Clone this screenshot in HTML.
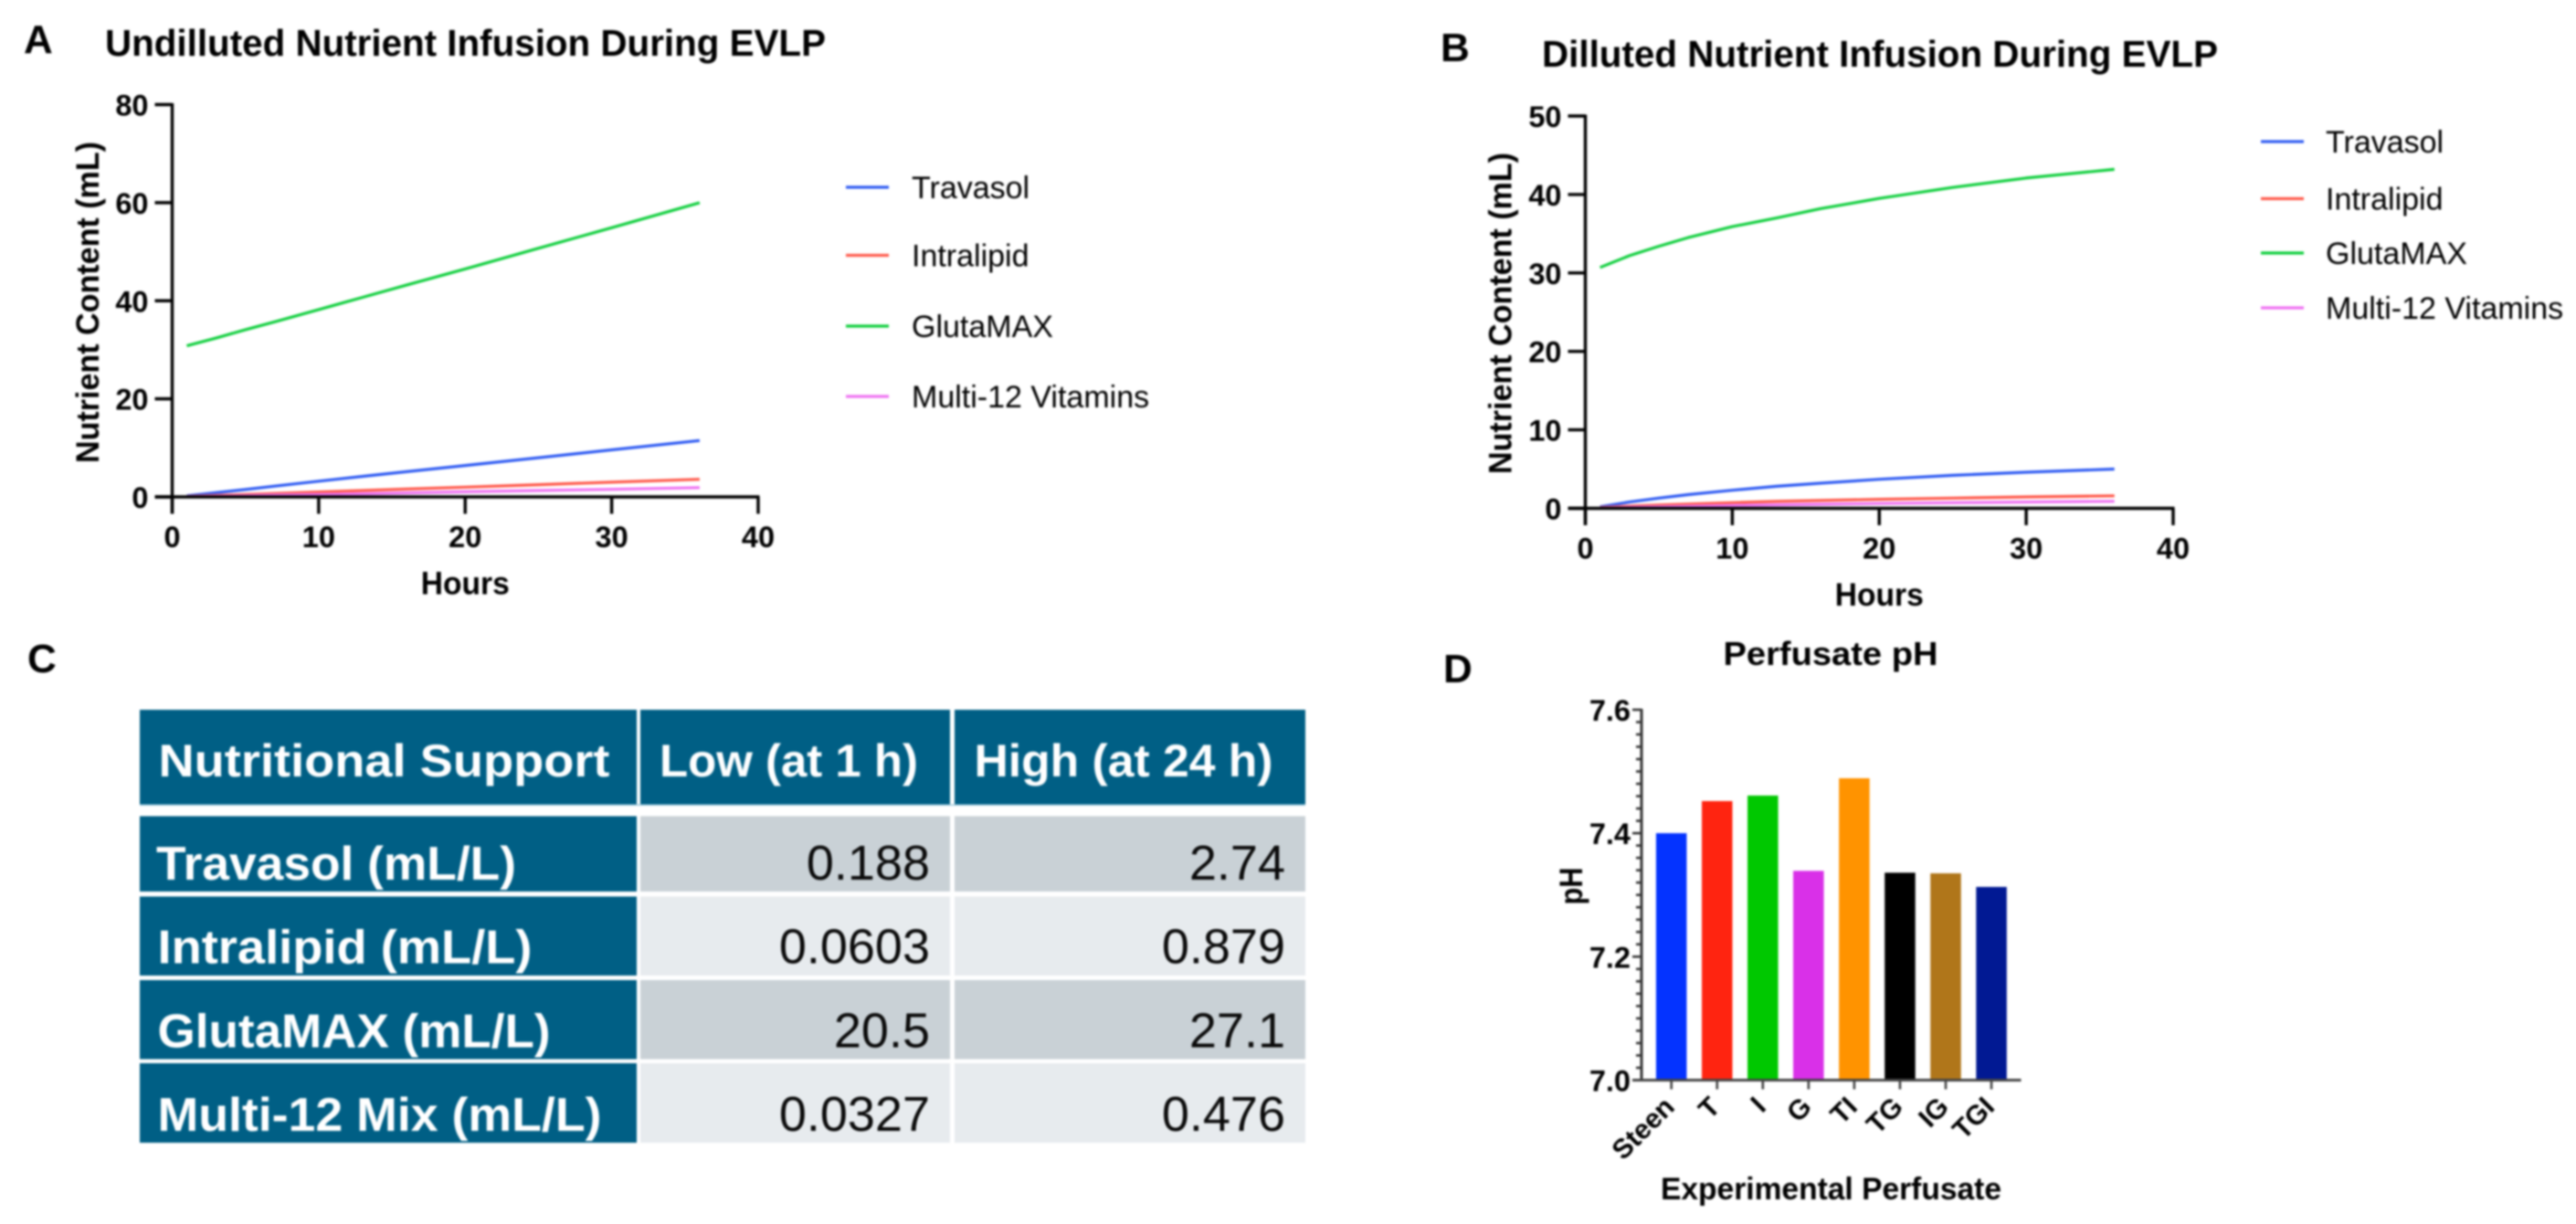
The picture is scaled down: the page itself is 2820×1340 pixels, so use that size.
<!DOCTYPE html>
<html lang="en">
<head>
<meta charset="utf-8">
<title>EVLP Nutrient Infusion Figure</title>
<style>
  html, body { margin: 0; padding: 0; background: #fff; }
  #figure { display: block; width: 2820px; height: 1340px; filter: blur(1.1px); font-family: "Liberation Sans", sans-serif; }
  text { fill: #000; }
  .panel { font-size: 44px; font-weight: 700; }
  .title { font-size: 41px; font-weight: 700; }
  .axt { font-size: 32.5px; font-weight: 700; }
  .axtitle { font-size: 35px; font-weight: 700; }
  .leg { font-size: 34px; }
  .th { font-size: 50px; font-weight: 700; fill: #fff; }
  .rh { font-size: 52px; font-weight: 700; fill: #fff; }
  .val { font-size: 54px; text-anchor: end; fill: #0a0a0a; }
</style>
</head>
<body>
<svg id="figure" xmlns="http://www.w3.org/2000/svg" width="2820" height="1340" viewBox="0 0 2820 1340">
  <rect x="0" y="0" width="2820" height="1340" fill="#fff"/>

  <text class="panel" x="26" y="58">A</text>
  <text class="panel" x="1577" y="67">B</text>
  <text class="panel" x="30" y="736">C</text>
  <text class="panel" x="1580" y="747">D</text>

  <text class="title" x="115" y="61" textLength="789" lengthAdjust="spacingAndGlyphs">Undilluted Nutrient Infusion During EVLP</text>
  <text class="title" x="1688" y="73" textLength="740" lengthAdjust="spacingAndGlyphs">Dilluted Nutrient Infusion During EVLP</text>

  <g id="chart-a"></g>
  <g id="chart-b"></g>

  <g id="nutrition-table">
    <rect x="153" y="777" width="544" height="105" fill="#005F85"/>
    <rect x="701" y="777" width="339" height="105" fill="#005F85"/>
    <rect x="1045" y="777" width="384" height="105" fill="#005F85"/>
    <rect x="153" y="880.5" width="1276" height="1.5" fill="#9CC7DA"/>
    <text class="th" x="173.5" y="850" textLength="494" lengthAdjust="spacingAndGlyphs">Nutritional Support</text>
    <text class="th" x="722" y="850" textLength="283" lengthAdjust="spacingAndGlyphs">Low (at 1 h)</text>
    <text class="th" x="1066.5" y="850" textLength="327" lengthAdjust="spacingAndGlyphs">High (at 24 h)</text>

    <rect x="153" y="893.5" width="544" height="82.5" fill="#005F85"/>
    <rect x="701" y="893.5" width="339" height="82.5" fill="#C9D1D6"/>
    <rect x="1045" y="893.5" width="384" height="82.5" fill="#C9D1D6"/>
    <text class="rh" x="171" y="963" textLength="394" lengthAdjust="spacingAndGlyphs">Travasol (mL/L)</text>
    <text class="val" x="1018" y="963">0.188</text>
    <text class="val" x="1407" y="963">2.74</text>

    <rect x="153" y="981.5" width="544" height="86.5" fill="#005F85"/>
    <rect x="701" y="981.5" width="339" height="86.5" fill="#E7EBEE"/>
    <rect x="1045" y="981.5" width="384" height="86.5" fill="#E7EBEE"/>
    <text class="rh" x="172.5" y="1054.5" textLength="410" lengthAdjust="spacingAndGlyphs">Intralipid (mL/L)</text>
    <text class="val" x="1018" y="1054.5">0.0603</text>
    <text class="val" x="1407" y="1054.5">0.879</text>

    <rect x="153" y="1073" width="544" height="86.5" fill="#005F85"/>
    <rect x="701" y="1073" width="339" height="86.5" fill="#C9D1D6"/>
    <rect x="1045" y="1073" width="384" height="86.5" fill="#C9D1D6"/>
    <text class="rh" x="172.5" y="1146.5" textLength="430" lengthAdjust="spacingAndGlyphs">GlutaMAX (mL/L)</text>
    <text class="val" x="1018" y="1146.5">20.5</text>
    <text class="val" x="1407" y="1146.5">27.1</text>

    <rect x="153" y="1164" width="544" height="87" fill="#005F85"/>
    <rect x="701" y="1164" width="339" height="87" fill="#E7EBEE"/>
    <rect x="1045" y="1164" width="384" height="87" fill="#E7EBEE"/>
    <text class="rh" x="172.5" y="1238" textLength="486" lengthAdjust="spacingAndGlyphs">Multi-12 Mix (mL/L)</text>
    <text class="val" x="1018" y="1238">0.0327</text>
    <text class="val" x="1407" y="1238">0.476</text>
  </g>

  <g id="chart-d"></g>
</svg>

<script>
// ---- Shared line chart data ----
const hours = [1, 3, 5, 7, 10, 13, 16, 20, 25, 30, 36];
const xTicksHours = [0, 10, 20, 30, 40];
const seriesNames = ['Travasol', 'Intralipid', 'GlutaMAX', 'Multi-12 Vitamins'];
const seriesColors = ['#2F5BF2', '#FF5A4C', '#12CF3F', '#EE72F2'];

// ---- Chart A: undiluted ----
const yTicksA = [0, 20, 40, 60, 80];
const travasolA = [0.2, 0.85, 1.5, 2.2, 3.2, 4.2, 5.15, 6.4, 8.0, 9.6, 11.5];
const intralipidA = [0.1, 0.3, 0.5, 0.7, 1.0, 1.3, 1.6, 2.0, 2.5, 3.0, 3.6];
const glutamaxA = [30.8, 32.4, 34.1, 35.7, 38.2, 40.7, 43.2, 46.5, 50.7, 54.9, 60.0];
const vitaminsA = [0.05, 0.15, 0.25, 0.38, 0.5, 0.65, 0.82, 1.05, 1.3, 1.55, 1.9];

// ---- Chart B: diluted ----
const yTicksB = [0, 10, 20, 30, 40, 50];
const travasolB = [0.2, 0.8, 1.3, 1.75, 2.3, 2.8, 3.2, 3.7, 4.2, 4.6, 5.0];
const intralipidB = [0.1, 0.28, 0.42, 0.55, 0.72, 0.88, 1.0, 1.15, 1.3, 1.45, 1.6];
const glutamaxB = [30.7, 32.2, 33.4, 34.5, 35.9, 37.0, 38.2, 39.5, 40.9, 42.1, 43.2];
const vitaminsB = [0.05, 0.13, 0.2, 0.27, 0.37, 0.45, 0.52, 0.62, 0.71, 0.8, 0.9];

// ---- Chart D: perfusate pH ----
const phCategories = ['Steen', 'T', 'I', 'G', 'TI', 'TG', 'IG', 'TGI'];
const phValues = [7.400, 7.452, 7.461, 7.339, 7.489, 7.336, 7.335, 7.313];
const phColors = ['#0433FF', '#FF2410', '#00C800', '#D930E8', '#FF9300', '#000000', '#B0761A', '#011993'];
const phTicks = ['7.0', '7.2', '7.4', '7.6'];

const NS = 'http://www.w3.org/2000/svg';
function mk(tag, attrs, parent, txt) {
  const el = document.createElementNS(NS, tag);
  for (const k in attrs) el.setAttribute(k, attrs[k]);
  if (txt !== undefined) el.textContent = txt;
  parent.appendChild(el);
  return el;
}

function drawLineChart(opts) {
  const g = document.getElementById(opts.id);
  const xScale = v => opts.x0 + (v / 40) * (opts.x1 - opts.x0);
  const yMax = opts.yTicks[opts.yTicks.length - 1];
  const yScale = v => opts.y0 - (v / yMax) * (opts.y0 - opts.yTop);

  opts.series.forEach((vals, s) => {
    const d = vals.map((v, i) => (i ? 'L' : 'M') + xScale(hours[i]).toFixed(1) + ' ' + yScale(v).toFixed(1)).join(' ');
    const line = mk('path', { d: d, fill: 'none', stroke: seriesColors[s], 'stroke-width': 3.2, 'stroke-linejoin': 'round' }, g);
    
    
  });

  const yAxis = mk('line', { x1: opts.x0, x2: opts.x0, y1: opts.yTop - 1.5, y2: opts.y0 + 18.5, stroke: '#000', 'stroke-width': 3.4 }, g);
  
  
  const xAxis = mk('line', { x1: opts.x0 - 19, x2: opts.x1 + 1.5, y1: opts.y0, y2: opts.y0, stroke: '#000', 'stroke-width': 3.6 }, g);
  
  

  opts.yTicks.forEach(t => {
    const tick = mk('line', { x1: opts.x0 - 19, x2: opts.x0, y1: yScale(t), y2: yScale(t), stroke: '#000', 'stroke-width': 3.4 }, g);
    
    
    const lab = mk('text', { x: opts.x0 - 26, y: yScale(t) + 12, 'text-anchor': 'end', class: 'axt' }, g, String(t));
    
    
  });
  xTicksHours.forEach(t => {
    const tick = mk('line', { x1: xScale(t), x2: xScale(t), y1: opts.y0, y2: opts.y0 + 18.5, stroke: '#000', 'stroke-width': 3.4 }, g);
    
    
    const lab = mk('text', { x: xScale(t), y: opts.y0 + 55, 'text-anchor': 'middle', class: 'axt' }, g, String(t));
    
    
  });

  const xTitle = mk('text', { x: (opts.x0 + opts.x1) / 2, y: opts.y0 + 106.5, 'text-anchor': 'middle', class: 'axtitle', textLength: 97, lengthAdjust: 'spacingAndGlyphs' }, g, 'Hours');
  
  
  const yTitle = mk('text', { transform: 'translate(' + opts.yTitleX + ' ' + opts.yTitleY + ') rotate(-90)', 'text-anchor': 'middle', class: 'axtitle', textLength: 352, lengthAdjust: 'spacingAndGlyphs' }, g, 'Nutrient Content (mL)');
  
  

  seriesNames.forEach((name, s) => {
    const ly = opts.legendY[s];
    const swatch = mk('line', { x1: opts.legX, x2: opts.legX + 47, y1: ly, y2: ly, stroke: seriesColors[s], 'stroke-width': 3.2 }, g);
    
    
    const lab = mk('text', { x: opts.legTextX, y: ly + 12, class: 'leg' }, g, name);
    
    
  });
}

drawLineChart({
  id: 'chart-a', x0: 188.5, x1: 830, y0: 544, yTop: 114.5, yTicks: yTicksA,
  series: [travasolA, intralipidA, glutamaxA, vitaminsA],
  yTitleX: 108, yTitleY: 331, legX: 926, legTextX: 998, legendY: [205, 279.5, 357, 434]
});
drawLineChart({
  id: 'chart-b', x0: 1735.5, x1: 2379, y0: 556.5, yTop: 127, yTicks: yTicksB,
  series: [travasolB, intralipidB, glutamaxB, vitaminsB],
  yTitleX: 1654.5, yTitleY: 343, legX: 2475, legTextX: 2546, legendY: [155, 217.5, 277, 337]
});

// ---- Chart D drawing ----
(function drawPh() {
  const g = document.getElementById('chart-d');
  const axisX = 1797, base = 1182.5, top = 777, phMin = 7.0, phMax = 7.6;
  const y = v => base - (v - phMin) / (phMax - phMin) * (base - top);
  const firstCenter = 1829.7, step = 50.05, barW = 33.5;
  const x = i => firstCenter + i * step;

  phCategories.forEach((cat, i) => {
    const bar = mk('rect', { x: x(i) - barW / 2, y: y(phValues[i]), width: barW, height: base - y(phValues[i]), fill: phColors[i] }, g);
    
    
    const tick = mk('line', { x1: x(i), x2: x(i), y1: base, y2: base + 10, stroke: '#444', 'stroke-width': 2.6 }, g);
    
    
    const lab = mk('text', { transform: 'translate(' + (x(i) + 5) + ' ' + (base + 31) + ') rotate(-45)', 'text-anchor': 'end', class: 'axt', style: 'font-size:30px' }, g, cat);
    
    
  });

  for (let k = 0; k <= 30; k++) {
    const v = phMin + k * 0.02;
    const major = k % 10 === 0;
    const tick = mk('line', { x1: axisX - (major ? 10 : 6), x2: axisX, y1: y(v), y2: y(v), stroke: '#333', 'stroke-width': 2.6 }, g);
    
    
  }
  phTicks.forEach(t => {
    const lab = mk('text', { x: 1785, y: y(parseFloat(t)) + 12, 'text-anchor': 'end', class: 'axt' }, g, t);
    
    
  });

  const yAxis = mk('line', { x1: axisX, x2: axisX, y1: top - 1, y2: base + 1.5, stroke: '#333', 'stroke-width': 3 }, g);
  
  
  const xAxis = mk('line', { x1: axisX - 10, x2: 2212.5, y1: base, y2: base, stroke: '#444', 'stroke-width': 3 }, g);
  
  

  const title = mk('text', { x: 2004, y: 728, 'text-anchor': 'middle', class: 'axt', textLength: 235, lengthAdjust: 'spacingAndGlyphs', style: 'font-size:36px' }, g, 'Perfusate pH');
  
  
  const yTitle = mk('text', { transform: 'translate(1732 970) rotate(-90)', 'text-anchor': 'middle', class: 'axt', textLength: 41, lengthAdjust: 'spacingAndGlyphs', style: 'font-size:35px' }, g, 'pH');
  
  
  const xTitle = mk('text', { x: 2004.5, y: 1313, 'text-anchor': 'middle', class: 'axt', textLength: 373, lengthAdjust: 'spacingAndGlyphs', style: 'font-size:34px' }, g, 'Experimental Perfusate');
  
  
})();
</script>
</body>
</html>
